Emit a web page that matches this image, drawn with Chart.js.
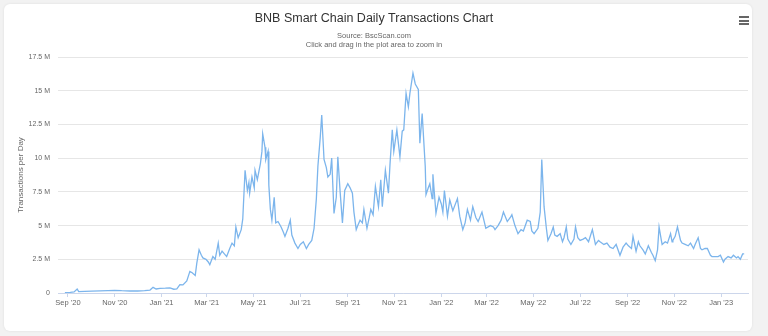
<!DOCTYPE html>
<html>
<head>
<meta charset="utf-8">
<script src="https://cdn.jsdelivr.net/npm/chart.js@4.4.0/dist/chart.umd.min.js"></script>
<style>
  html, body { margin: 0; padding: 0; background: #f2f2f2; }
  #wrap { position: relative; width: 768px; height: 336px; overflow: hidden; }
  #card { position: absolute; left: 4px; top: 4px; width: 748px; height: 327px; background: #fff;
          border-radius: 6px; box-shadow: 0 0 3px rgba(0,0,0,0.08); }
  #chart { position: absolute; left: 0; top: 0; }
  #menu { position: absolute; left: 739px; top: 16px; width: 10px; }
  #menu span { display: block; height: 2px; background: #666; margin-bottom: 1.5px; }
</style>
</head>
<body>
<div id="wrap">
  <div id="card"></div>
  <canvas id="chart" width="768" height="336"></canvas>
  <div id="menu"><span></span><span></span><span></span></div>
</div>
<script>
// Day offsets from 1 Sep 2020, and daily transactions in millions
const days = [
  -4, 3, 8, 12, 14, 22, 31, 42, 52, 61, 70, 81, 91, 100, 107, 111, 115, 120, 127, 133,
  138, 142, 146, 150, 155, 159, 162, 166, 168, 171, 174, 176, 180, 183, 185, 189, 192, 196, 198, 201,
  204, 207, 211, 214, 217, 219, 222, 226, 228, 231, 234, 236, 237, 240, 243, 244, 247, 251, 253, 254,
  257, 258, 261, 262, 264, 266, 269, 271, 274, 278, 281, 283, 287, 290, 292, 296, 300, 303, 307, 311,
  314, 318, 321, 324, 326, 329, 331, 334, 337, 339, 342, 344, 347, 350, 352, 355, 358, 361, 365, 368,
  371, 373, 376, 378, 381, 384, 386, 390, 393, 395, 398, 401, 405, 408, 410, 414, 418, 420, 423, 425,
  429, 433, 436, 438, 441, 444, 446, 450, 453, 457, 459, 462, 466, 467, 470, 472, 475, 476, 480, 484,
  487, 489, 491, 495, 498, 502, 508, 511, 515, 518, 521, 525, 528, 532, 535, 540, 545, 551, 555, 557,
  561, 565, 568, 573, 577, 579, 583, 587, 591, 594, 599, 603, 605, 608, 613, 616, 618, 621, 624, 626,
  630, 633, 635, 638, 642, 645, 647, 650, 652, 656, 660, 662, 665, 668, 672, 675, 679, 684, 688, 692,
  694, 699, 703, 707, 711, 715, 720, 724, 728, 731, 735, 737, 741, 744, 746, 750, 753, 757, 761, 763,
  766, 769, 771, 774, 775, 779, 782, 786, 788, 789, 792, 795, 799, 801, 805, 809, 812, 816, 818, 822,
  825, 827, 831, 834, 838, 840, 844, 848, 851, 855, 857, 861, 865, 868, 872, 874, 877, 880, 882
];
const txMillions = [
  0.02, 0.05, 0.08, 0.3, 0.1, 0.12, 0.14, 0.16, 0.18, 0.2, 0.17, 0.15, 0.15, 0.17, 0.22, 0.42, 0.3, 0.35, 0.36, 0.38,
  0.28, 0.3, 0.62, 0.6, 0.9, 1.6, 1.5, 1.3, 2.2, 3.2, 2.8, 2.6, 2.5, 2.3, 2.1, 2.7, 2.5, 3.7, 2.8, 3.1,
  2.9, 2.7, 3.3, 3.7, 3.5, 4.9, 4.1, 4.7, 5.5, 9.1, 7.6, 8.2, 7.4, 8.6, 7.8, 9.1, 8.4, 9.6, 10.5, 11.8,
  10.8, 9.9, 10.5, 8.0, 6.2, 5.4, 7.1, 5.2, 5.3, 4.9, 4.5, 4.2, 4.8, 5.4, 4.3, 3.7, 3.3, 3.6, 3.8, 3.3,
  3.6, 3.9, 4.8, 7.0, 9.4, 11.5, 13.2, 9.9, 9.3, 8.6, 8.8, 10.0, 5.9, 7.1, 10.1, 7.5, 5.2, 7.6, 8.1, 7.8,
  7.4, 6.0, 4.7, 5.0, 5.4, 5.2, 6.2, 4.8, 5.6, 6.2, 5.8, 7.9, 6.4, 8.4, 6.4, 9.1, 7.4, 9.5, 12.1, 10.5,
  12.1, 10.1, 12.0, 12.1, 14.8, 13.8, 14.8, 16.3, 15.5, 15.1, 11.1, 13.3, 9.4, 7.3, 7.8, 8.1, 7.0, 8.8, 5.9, 7.1,
  6.6, 6.0, 7.6, 5.7, 6.9, 6.1, 7.0, 5.7, 4.7, 5.2, 6.2, 5.4, 6.4, 5.6, 5.3, 6.0, 4.8, 5.0, 4.9, 4.7,
  5.0, 5.4, 6.0, 5.3, 5.6, 5.8, 5.0, 4.4, 4.7, 4.6, 5.4, 5.3, 4.6, 4.4, 4.8, 6.0, 9.9, 6.4, 4.8, 3.9,
  4.4, 4.9, 4.3, 4.2, 4.4, 3.8, 4.1, 4.9, 4.0, 3.6, 4.0, 4.9, 4.1, 3.9, 4.0, 4.1, 3.8, 4.7, 3.6, 3.9,
  3.8, 3.6, 3.7, 3.4, 3.3, 3.6, 2.8, 3.4, 3.7, 3.5, 3.3, 4.2, 3.1, 3.8, 3.5, 3.2, 2.9, 3.5, 3.0, 2.8,
  2.4, 3.2, 4.9, 3.9, 3.6, 3.8, 3.7, 4.4, 3.8, 3.9, 4.2, 4.9, 3.9, 3.7, 3.6, 3.5, 3.7, 3.3, 3.6, 4.1,
  3.3, 3.2, 3.3, 3.3, 2.8, 2.7, 2.7, 2.7, 2.8, 2.3, 2.5, 2.7, 2.6, 2.8, 2.6, 2.7, 2.5, 2.9, 2.9
];

// x axis tick labels at month starts
const monthLabels = ["Sep '20", "Nov '20", "Jan '21", "Mar '21", "May '21", "Jul '21", "Sep '21",
  "Nov '21", "Jan '22", "Mar '22", "May '22", "Jul '22", "Sep '22", "Nov '22", "Jan '23"];
const monthDates = ['2020-09-01', '2020-11-01', '2021-01-01', '2021-03-01', '2021-05-01', '2021-07-01', '2021-09-01',
  '2021-11-01', '2022-01-01', '2022-03-01', '2022-05-01', '2022-07-01', '2022-09-01', '2022-11-01', '2023-01-01'];
const yTicks = [0, 2.5, 5, 7.5, 10, 12.5, 15, 17.5];

const startMs = Date.UTC(2020, 8, 1);
const monthDays = monthDates.map(d => Math.round((Date.parse(d) - startMs) / 86400000));

const points = days.map((d, i) => ({ x: d, y: txMillions[i] }));
const fontFam = '"Liberation Sans", Arial, sans-serif';

new Chart(document.getElementById('chart'), {
  type: 'line',
  data: {
    datasets: [{
      data: points,
      borderColor: '#7cb5ec',
      borderWidth: 1.3,
      pointRadius: 0,
      tension: 0,
      fill: false
    }]
  },
  options: {
    responsive: false,
    animation: false,
    parsing: false,
    layout: { padding: { top: 6, right: 20, left: 0, bottom: 0 } },
    plugins: {
      legend: { display: false },
      tooltip: { enabled: false },
      title: {
        display: true,
        text: 'BNB Smart Chain Daily Transactions Chart',
        color: '#333333',
        font: { family: fontFam, size: 12.5, weight: 'normal' },
        padding: { top: 5, bottom: 1 }
      },
      subtitle: {
        display: true,
        text: ['Source: BscScan.com', 'Click and drag in the plot area to zoom in'],
        color: '#666666',
        font: { family: fontFam, size: 7.5, lineHeight: 1.2 },
        padding: { top: 4, bottom: 8 }
      }
    },
    scales: {
      x: {
        type: 'linear',
        min: -13,
        max: 887,
        afterBuildTicks: s => { s.ticks = monthDays.map(v => ({ value: v })); },
        afterFit: s => { s.height = 43; },
        ticks: {
          autoSkip: false,
          maxRotation: 0,
          color: '#666666',
          font: { family: fontFam, size: 7.5 },
          padding: 1,
          callback: (v, i) => monthLabels[i]
        },
        grid: { drawOnChartArea: false, drawTicks: true, tickLength: 4, color: '#ccd6eb' },
        border: { display: true, color: '#ccd6eb' }
      },
      y: {
        min: 0,
        max: 17.5,
        afterBuildTicks: s => { s.ticks = yTicks.map(v => ({ value: v })); },
        afterFit: s => { s.width = 58; },
        ticks: {
          color: '#666666',
          font: { family: fontFam, size: 7 },
          padding: 8,
          callback: v => v === 0 ? '0' : v + ' M'
        },
        grid: { color: '#e6e6e6', drawTicks: false },
        border: { display: false },
        title: {
          display: true,
          text: 'Transactions per Day',
          color: '#666666',
          font: { family: fontFam, size: 8 },
          padding: { top: 16, bottom: 0 }
        }
      }
    }
  }
});
</script>
</body>
</html>
